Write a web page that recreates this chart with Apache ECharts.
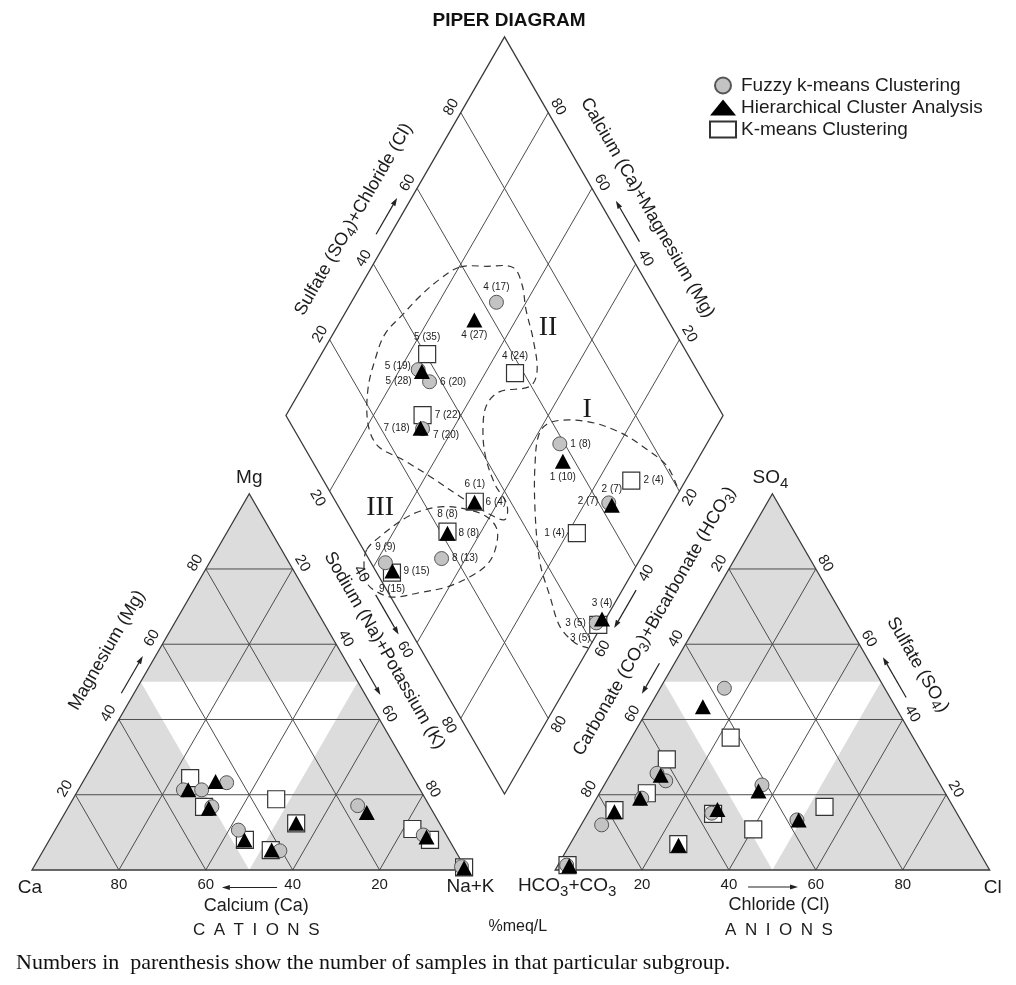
<!DOCTYPE html>
<html><head><meta charset="utf-8">
<script src="https://cdn.jsdelivr.net/npm/echarts@6/dist/echarts.min.js"></script>
<style>html,body{margin:0;padding:0;background:#fff}#chart{width:1016px;height:985px}</style>
</head><body><div id="chart"></div>
<script>
// ---------------- data ----------------
const ticks = [20, 40, 60, 80];
const clusterIds = [1, 2, 3, 4, 5, 6, 7, 8, 9];
const fuzzyCounts  = [8, 7, 5, 17, 28, 20, 20, 13, 9];
const hierCounts   = [10, 7, 4, 27, 19, 4, 18, 8, 15];
const kmeansCounts = [4, 4, 5, 24, 35, 1, 22, 8, 15];
// cations [Ca, Mg, Na+K] (%meq/L)
const fuzzyCations  = [[16.5,17.1,66.4],[5.3,9.3,85.4],[0.7,0.9,98.4],[43.6,23.2,33.2],[54.5,21.3,24.2],[50.3,21.3,28.4],[50.2,16.8,33.0],[40.4,5.1,54.5],[47.2,10.6,42.2]];
const hierCations   = [[15.3,15.3,69.4],[4.8,8.8,86.4],[0.3,0.5,99.2],[46.0,23.5,30.5],[53.4,21.3,25.3],[33.0,12.4,54.6],[51.1,16.4,32.5],[42.2,5.3,52.5],[47.1,8.0,44.9]];
const kmeansCations = [[7.0,10.9,82.1],[4.4,8.0,87.6],[0.2,0.7,99.1],[34.4,18.8,46.8],[51.4,24.4,24.2],[33.0,12.4,54.6],[52.0,16.8,31.2],[42.4,5.3,52.3],[47.0,8.0,45.0]];
// anions [HCO3+CO3, SO4, Cl] (%meq/L)
const fuzzyAnions  = [[41.1,22.6,36.3],[37.7,13.3,49.0],[56.4,15.1,28.5],[36.9,48.3,14.8],[63.7,25.7,10.6],[62.7,23.7,13.6],[70.5,19.1,10.4],[83.3,12.0,4.7],[96.7,1.3,2.0]];
const hierAnions   = [[42.7,21.0,36.3],[37.3,13.3,49.4],[54.6,16.1,29.3],[44.3,43.4,12.3],[63.1,25.2,11.7],[68.3,6.6,25.1],[70.9,19.1,10.0],[78.6,15.5,5.9],[96.2,1.1,2.7]];
const kmeansAnions = [[49.0,10.8,40.2],[29.6,16.8,53.6],[56.2,14.9,28.9],[42.0,35.2,22.8],[59.6,29.4,11.0],[68.2,6.9,24.9],[68.7,20.4,10.9],[78.4,15.9,5.7],[96.5,1.3,2.2]];
// zone outlines in the diamond, points as [Na+K %, SO4+Cl %]
const zoneI   = [[98.8,80.1],[93.9,80.5],[87.1,78.1],[78.7,74.2],[69.7,68.1],[61.9,60.3],[60.3,55.9],[63.2,50.8],[69.8,44.2],[77.5,38.7],[84.3,36.5],[90.6,34.8],[96.2,36.1],[99.8,38.4]];
const zoneII  = [[20.2,59.4],[26.3,65.7],[32.4,71.5],[36.7,71.3],[40.9,68.9],[46.5,66.6],[51.6,63.3],[52.0,59.7],[45.8,52.1],[44.5,47.5],[46.3,43.9],[50.7,40.4],[57.0,38.7],[62.3,38.8],[63.8,36.3],[58.2,32.8],[50.5,29.1],[41.0,24.9],[32.6,20.9],[25.1,17.0],[20.0,17.6],[15.3,22.2],[13.0,27.8],[11.9,33.4],[13.4,40.1],[14.9,46.4],[17.2,53.2]];
const zoneIII = [[36.2,0.8],[37.5,5.5],[40.5,13.0],[43.3,18.0],[48.0,23.9],[53.8,29.0],[59.4,32.6],[63.4,33.2],[65.6,30.1],[65.7,26.3],[63.4,20.8],[59.5,14.2],[54.0,7.2],[48.5,0.5],[44.1,-2.5],[40.6,-3.6],[37.6,-1.9]];
const zoneNames = ['I', 'II', 'III'];
const zoneNameAt = [[68.1,69.7],[48.4,71.5],[33.7,9.4]];

// ---------------- label placement (style) ----------------
const fuzzyLabelPlace  = [['right',0,0],['left',0,-2],['left',0,0],['top',0,0],['left',4,12],['right',0,0],['right',0,7],['right',0,0],['top',0,0]];
const hierLabelPlace   = [['bottom',0,0],['top',0,0],['top',0,0],['bottom',0,0],['left',0,-5],['right',0,0],['left',0,0],['right',0,0],['right',0,0]];
const kmeansLabelPlace = [['left',0,0],['right',0,0],['bottom',-18,-4],['top',0,0],['top',0,0],['top',0,0],['right',0,0],['top',0,0],['bottom',0,0]];

// ---------------- geometry ----------------
const FONT = '"Liberation Sans", Arial, Helvetica, sans-serif';
const SERIF = '"Liberation Serif", "Times New Roman", serif';
const INK = '#1c1c1c';
const SQ3 = Math.sqrt(3);
const PXU = 4.345;          // pixels per ternary unit
const ORIGIN = [32, 870];   // pixel position of the Ca corner
const SIDE = 100;
const RT_X0 = 120.4;
const D_B = [108.75, 17.49];
const D_SIDE = 100.6;

const LT_CA = [0, 0], LT_NA = [SIDE, 0], LT_MG = [SIDE / 2, SIDE * SQ3 / 2];
const RT_H = [RT_X0, 0], RT_CL = [RT_X0 + SIDE, 0], RT_S = [RT_X0 + SIDE / 2, SIDE * SQ3 / 2];
const D_R = [D_B[0] + D_SIDE / 2, D_B[1] + D_SIDE * SQ3 / 2];
const D_L = [D_B[0] - D_SIDE / 2, D_R[1]];
const D_T = [D_B[0], D_B[1] + D_SIDE * SQ3];

const sub = (a, b) => [a[0] - b[0], a[1] - b[1]];
const addk = (a, b, k) => [a[0] + b[0] * k, a[1] + b[1] * k];
const lerp = (a, b, t) => [a[0] + (b[0] - a[0]) * t, a[1] + (b[1] - a[1]) * t];

function cationPt(ca, mg, na) {
  const t = ca + mg + na;
  return addk(addk(LT_CA, sub(LT_NA, LT_CA), na / t), sub(LT_MG, LT_CA), mg / t);
}
function anionPt(h, s, cl) {
  const t = h + s + cl;
  return addk(addk(RT_H, sub(RT_CL, RT_H), cl / t), sub(RT_S, RT_H), s / t);
}
function diamondPt(n, s) {
  return addk(addk(D_B, sub(D_R, D_B), s / 100), sub(D_L, D_B), 1 - n / 100);
}

const N_UL = [-0.866, -0.5], N_UR = [0.866, -0.5], N_DL = [-0.866, 0.5], N_DR = [0.866, 0.5], N_D = [0, 1];
const ROT_UP = Math.PI / 3, ROT_DN = -Math.PI / 3;
const off = (p, n, d) => [p[0] + n[0] * d, p[1] + n[1] * d];

const RICH = {
  n: { fontSize: 18, lineHeight: 21, verticalAlign: 'top', fontFamily: FONT, fill: INK },
  s: { fontSize: 14, lineHeight: 14, verticalAlign: 'bottom', fontFamily: FONT, fill: INK },
  m: { fontSize: 19, lineHeight: 23, verticalAlign: 'top', fontFamily: FONT, fill: INK },
  t: { fontSize: 15, lineHeight: 15, verticalAlign: 'bottom', fontFamily: FONT, fill: INK }
};

function renderFrame(params, api) {
  const C = p => api.coord(p);
  const kids = [];
  const poly = (pts, style) => kids.push({ type: 'polygon', shape: { points: pts.map(C) }, style: style });
  const seg = (a, b, style) => { const p = C(a), q = C(b); kids.push({ type: 'line', shape: { x1: p[0], y1: p[1], x2: q[0], y2: q[1] }, style: style }); };
  const text = (p, str, size, rot, extra) => kids.push({
    type: 'text', x: p[0], y: p[1], rotation: rot || 0,
    style: Object.assign({ text: str, fill: INK, fontSize: size, fontFamily: FONT, align: 'center', verticalAlign: 'middle', rich: RICH }, extra || {})
  });
  const GRID = { stroke: '#4d4d4d', lineWidth: 1 };
  const EDGE = { fill: 'none', stroke: '#3a3a3a', lineWidth: 1.3 };

  // shading
  poly([LT_CA, LT_NA, LT_MG], { fill: '#dcdcdc' });
  poly([cationPt(50, 50, 0), cationPt(0, 50, 50), cationPt(50, 0, 50)], { fill: '#ffffff' });
  poly([RT_H, RT_CL, RT_S], { fill: '#dcdcdc' });
  poly([anionPt(50, 50, 0), anionPt(0, 50, 50), anionPt(50, 0, 50)], { fill: '#ffffff' });

  // grid lines
  ticks.forEach(k => {
    seg(cationPt(100 - k, k, 0), cationPt(0, k, 100 - k), GRID);
    seg(cationPt(k, 100 - k, 0), cationPt(k, 0, 100 - k), GRID);
    seg(cationPt(100 - k, 0, k), cationPt(0, 100 - k, k), GRID);
    seg(anionPt(100 - k, k, 0), anionPt(0, k, 100 - k), GRID);
    seg(anionPt(k, 100 - k, 0), anionPt(k, 0, 100 - k), GRID);
    seg(anionPt(100 - k, 0, k), anionPt(0, 100 - k, k), GRID);
    seg(diamondPt(k, 0), diamondPt(k, 100), GRID);
    seg(diamondPt(0, k), diamondPt(100, k), GRID);
  });
  poly([LT_CA, LT_NA, LT_MG], EDGE);
  poly([RT_H, RT_CL, RT_S], EDGE);
  poly([D_B, D_R, D_T, D_L], EDGE);

  // tick labels
  const tickSets = [
    { at: k => cationPt(k, 0, 100 - k), n: N_D, d: 15, rot: 0 },
    { at: k => cationPt(100 - k, k, 0), n: N_UL, d: 12, rot: ROT_UP },
    { at: k => cationPt(0, 100 - k, k), n: N_UR, d: 11, rot: ROT_DN },
    { at: k => anionPt(100 - k, 0, k), n: N_D, d: 15, rot: 0 },
    { at: k => anionPt(k, 100 - k, 0), n: N_UL, d: 11, rot: ROT_UP },
    { at: k => anionPt(0, k, 100 - k), n: N_UR, d: 11, rot: ROT_DN },
    { at: k => diamondPt(0, k), n: N_UL, d: 11, rot: ROT_UP },
    { at: k => diamondPt(100 - k, 100), n: N_UR, d: 11.5, rot: ROT_DN },
    { at: k => diamondPt(k, 0), n: N_DL, d: 14, rot: ROT_DN },
    { at: k => diamondPt(100, 100 - k), n: N_DR, d: 12.5, rot: ROT_UP }
  ];
  tickSets.forEach(ts => ticks.forEach(k => text(off(C(ts.at(k)), ts.n, ts.d), String(k), 15, ts.rot)));

  // axis titles
  const titles = [
    { a: LT_CA, b: LT_MG, t: 0.524, n: N_UL, d: 45, rot: ROT_UP, s: 'Magnesium (Mg)' },
    { a: LT_MG, b: LT_NA, t: 0.468, n: N_UR, d: 38.6, rot: ROT_DN, s: 'Sodium (Na)+Potassium (K)' },
    { a: LT_CA, b: LT_NA, t: 0.516, n: N_D, d: 36, rot: 0, s: 'Calcium (Ca)' },
    { a: RT_H, b: RT_CL, t: 0.515, n: N_D, d: 35, rot: 0, s: 'Chloride (Cl)' },
    { a: RT_S, b: RT_CL, t: 0.508, n: N_UR, d: 38.9, rot: ROT_DN, s: '{n|Sulfate (SO}{s|4}{n|)}' },
    { a: RT_H, b: RT_S, t: 0.61, n: N_UL, d: 36.9, rot: ROT_UP, s: '{n|Carbonate (CO}{s|3}{n|)+Bicarbonate (HCO}{s|3}{n|)}' },
    { a: D_L, b: D_T, t: 0.466, n: N_UL, d: 37.9, rot: ROT_UP, s: '{n|Sulfate (SO}{s|4}{n|)+Chloride (Cl)}' },
    { a: D_R, b: D_T, t: 0.498, n: N_UR, d: 38.3, rot: ROT_DN, s: 'Calcium (Ca)+Magnesium (Mg)' }
  ];
  titles.forEach(ti => text(off(C(lerp(ti.a, ti.b, ti.t)), ti.n, ti.d), ti.s, 18, ti.rot));

  // arrows
  const arrows = [
    { a: LT_CA, b: LT_MG, t0: 0.455, t1: 0.554, n: N_UL, d: 11 },
    { a: LT_CA, b: LT_NA, t0: 0.564, t1: 0.437, n: N_D, d: 17.5 },
    { a: LT_MG, b: LT_NA, t0: 0.456, t1: 0.552, n: N_UR, d: 13 },
    { a: D_L, b: D_B, t0: 0.458, t1: 0.563, n: N_DL, d: 12 },
    { a: RT_H, b: RT_CL, t0: 0.444, t1: 0.559, n: N_D, d: 17 },
    { a: RT_S, b: RT_CL, t0: 0.56, t1: 0.453, n: N_UR, d: 14 },
    { a: D_R, b: D_B, t0: 0.4455, t1: 0.5457, n: N_DR, d: 12 },
    { a: RT_H, b: RT_S, t0: 0.532, t1: 0.451, n: N_UL, d: 13 },
    { a: D_L, b: D_T, t0: 0.462, t1: 0.558, n: N_UL, d: 12.5 },
    { a: D_R, b: D_T, t0: 0.44, t1: 0.548, n: N_UR, d: 14.5 }
  ];
  arrows.forEach(ar => {
    const p0 = off(C(lerp(ar.a, ar.b, ar.t0)), ar.n, ar.d);
    const p1 = off(C(lerp(ar.a, ar.b, ar.t1)), ar.n, ar.d);
    const dx = p1[0] - p0[0], dy = p1[1] - p0[1], L = Math.hypot(dx, dy);
    const ux = dx / L, uy = dy / L, hl = 8, hw = 2.6;
    const base = [p1[0] - ux * hl, p1[1] - uy * hl];
    kids.push({ type: 'line', shape: { x1: p0[0], y1: p0[1], x2: base[0], y2: base[1] }, style: { stroke: '#222', lineWidth: 1.2 } });
    kids.push({ type: 'polygon', shape: { points: [p1, [base[0] - uy * hw, base[1] + ux * hw], [base[0] + uy * hw, base[1] - ux * hw]] }, style: { fill: '#222' } });
  });

  // corner labels
  const corners = [
    { p: LT_MG, dx: 0, dy: -16, s: 'Mg' },
    { p: LT_CA, dx: -2, dy: 18, s: 'Ca' },
    { p: LT_NA, dx: 4, dy: 17, s: 'Na+K' },
    { p: RT_S, dx: -2, dy: -14, s: '{m|SO}{t|4}' },
    { p: RT_H, dx: 12, dy: 18, s: '{m|HCO}{t|3}{m|+CO}{t|3}' },
    { p: RT_CL, dx: 3, dy: 18, s: 'Cl' }
  ];
  corners.forEach(co => { const p = C(co.p); text([p[0] + co.dx, p[1] + co.dy], co.s, 19, 0); });

  // group captions
  const cp = C(lerp(LT_CA, LT_NA, 0.516)), ap = C(lerp(RT_H, RT_CL, 0.515));
  text([cp[0], cp[1] + 60], 'C\u2002A\u2002T\u2002I\u2002O\u2002N\u2002S', 17, 0);
  text([ap[0], ap[1] + 60], 'A\u2002N\u2002I\u2002O\u2002N\u2002S', 17, 0);
  const mp = lerp(C(LT_NA), C(RT_H), 0.5);
  text([mp[0] + 7, mp[1] + 57], '%meq/L', 16, 0);

  return { type: 'group', children: kids };
}

function renderZones(params, api) {
  const zones = [zoneI, zoneII, zoneIII];
  const closed = [false, true, true];
  const i = params.dataIndex;
  const pts = zones[i].map(z => api.coord(diamondPt(z[0], z[1])));
  const np = api.coord(diamondPt(zoneNameAt[i][0], zoneNameAt[i][1]));
  return {
    type: 'group', children: [
      { type: closed[i] ? 'polygon' : 'polyline', shape: { points: pts, smooth: 0.35 },
        style: { fill: 'none', stroke: '#333', lineWidth: 1.2, lineDash: [7, 5] } },
      { type: 'text', x: np[0], y: np[1], style: { text: zoneNames[i], fill: '#1a1a1a', fontSize: 28, fontFamily: SERIF, align: 'center', verticalAlign: 'middle' } }
    ]
  };
}

function buildPoints(cations, anions, counts, place) {
  const pts = [];
  cations.forEach(v => pts.push({ value: cationPt(v[0], v[1], v[2]) }));
  anions.forEach(v => pts.push({ value: anionPt(v[0], v[1], v[2]) }));
  cations.forEach((v, i) => {
    const nak = 100 * v[2] / (v[0] + v[1] + v[2]);
    const a = anions[i];
    const sc = 100 * (a[1] + a[2]) / (a[0] + a[1] + a[2]);
    const pl = place[i];
    pts.push({
      value: diamondPt(nak, sc),
      label: { show: true, formatter: clusterIds[i] + ' (' + counts[i] + ')', position: pl[0], offset: [pl[1], pl[2]],
        distance: 3, fontSize: 10, fontFamily: FONT, color: '#222' }
    });
  });
  return pts;
}

const chart = echarts.init(document.getElementById('chart'), null, { renderer: 'canvas' });
chart.setOption({
  animation: false,
  backgroundColor: '#fff',
  title: { text: 'PIPER DIAGRAM', left: 504, top: 6, textAlign: 'center',
    textStyle: { fontSize: 19, fontWeight: 'bold', fontFamily: FONT, color: '#111' } },
  legend: {
    data: ['Fuzzy k-means Clustering', 'Hierarchical Cluster Analysis', 'K-means Clustering'],
    orient: 'vertical', left: 709, top: 76, padding: 0, itemWidth: 26, itemHeight: 16, itemGap: 3,
    selectedMode: false, textStyle: { fontSize: 19, fontFamily: FONT, color: INK }
  },
  grid: { left: 0, right: 0, top: 0, bottom: 0 },
  xAxis: { type: 'value', min: -ORIGIN[0] / PXU, max: (1016 - ORIGIN[0]) / PXU, show: false },
  yAxis: { type: 'value', min: -(985 - ORIGIN[1]) / PXU, max: ORIGIN[1] / PXU, show: false },
  graphic: [{ type: 'text', left: 16, top: 952,
    style: { text: 'Numbers in  parenthesis show the number of samples in that particular subgroup.', fill: '#111', fontSize: 22, fontFamily: SERIF } }],
  series: [
    { type: 'custom', name: 'frame', silent: true, z: 1, renderItem: renderFrame, data: [[0, 0]] },
    { type: 'custom', name: 'zones', silent: true, z: 2, renderItem: renderZones, data: [[0, 0], [0, 0], [0, 0]] },
    { type: 'scatter', name: 'K-means Clustering', z: 3, symbol: 'rect', symbolSize: 17,
      itemStyle: { color: '#ffffff', borderColor: '#333', borderWidth: 1.2, opacity: 1 },
      data: buildPoints(kmeansCations, kmeansAnions, kmeansCounts, kmeansLabelPlace) },
    { type: 'scatter', name: 'Fuzzy k-means Clustering', z: 4, symbol: 'circle', symbolSize: 14,
      itemStyle: { color: '#c3c3c3', borderColor: '#555', borderWidth: 1, opacity: 1 },
      data: buildPoints(fuzzyCations, fuzzyAnions, fuzzyCounts, fuzzyLabelPlace) },
    { type: 'scatter', name: 'Hierarchical Cluster Analysis', z: 5, symbol: 'triangle', symbolSize: [16, 15],
      itemStyle: { color: '#000000', opacity: 1 },
      data: buildPoints(hierCations, hierAnions, hierCounts, hierLabelPlace) }
  ]
});
</script>
</body></html>
